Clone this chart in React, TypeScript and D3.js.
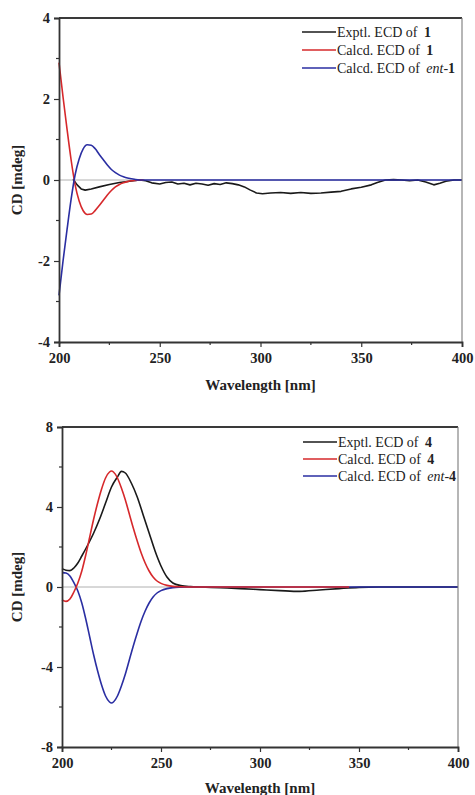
import { useEffect, useRef } from "react";
import * as d3 from "d3";

// panel 1 (compound 1)
const exp1Wl = [207, 209, 211, 213, 216, 220, 225, 230, 235, 240, 243, 246, 250, 253, 256, 259, 262, 265, 268, 271, 274, 277, 280, 283, 286, 289, 292, 295, 298, 301, 305, 310, 315, 320, 325, 330, 335, 340, 345, 350, 355, 358, 362, 366, 370, 374, 378, 382, 386, 389, 392, 396, 400];
const exp1Cd = [0.02, -0.12, -0.22, -0.25, -0.22, -0.17, -0.11, -0.06, -0.03, 0.0, -0.02, -0.07, -0.1, -0.06, -0.05, -0.1, -0.08, -0.12, -0.08, -0.1, -0.13, -0.09, -0.11, -0.07, -0.09, -0.12, -0.17, -0.25, -0.32, -0.34, -0.32, -0.31, -0.33, -0.31, -0.33, -0.32, -0.3, -0.28, -0.22, -0.18, -0.12, -0.06, 0.0, 0.01, 0.0, -0.02, 0.0, -0.05, -0.12, -0.08, -0.03, 0.0, 0.0];
const calc1Wl = [200, 202, 204, 206, 208, 210, 212, 214, 216, 218, 220, 222, 224, 226, 228, 230, 232, 234, 236, 238, 240, 242];
const calc1Cd = [2.9, 2.05, 1.25, 0.5, -0.12, -0.52, -0.76, -0.85, -0.84, -0.75, -0.63, -0.5, -0.37, -0.26, -0.17, -0.11, -0.07, -0.04, -0.02, -0.01, 0.0, 0.0];
const ent1Wl = [200, 202, 204, 206, 208, 210, 212, 214, 216, 218, 220, 222, 224, 226, 228, 230, 232, 234, 236, 238, 240, 242, 300, 400];
const ent1Cd = [-2.85, -2.0, -1.22, -0.48, 0.13, 0.52, 0.77, 0.87, 0.86, 0.77, 0.63, 0.5, 0.37, 0.26, 0.18, 0.12, 0.08, 0.05, 0.03, 0.01, 0.0, 0.0, 0.0, 0.0];

// panel 2 (compound 4)
const exp4Wl = [200, 202, 204, 206, 208, 210, 213, 216, 219, 222, 225, 228, 230, 232, 235, 238, 241, 244, 247, 250, 253, 256, 260, 265, 270, 280, 290, 300, 310, 320, 330, 340, 350, 360, 370, 380, 390, 400];
const exp4Cd = [0.92, 0.84, 0.82, 0.95, 1.2, 1.55, 2.1, 2.7, 3.4, 4.2, 5.0, 5.5, 5.78, 5.7, 5.2, 4.5, 3.6, 2.7, 1.8, 1.05, 0.5, 0.2, 0.07, 0.02, 0.0, -0.04, -0.08, -0.13, -0.18, -0.22, -0.15, -0.08, -0.02, 0.0, 0.0, 0.0, 0.0, 0.0];
const calc4Wl = [200, 202, 204, 206, 208, 210, 212, 214, 216, 218, 220, 222, 224, 225, 226, 228, 230, 232, 234, 236, 238, 240, 242, 244, 246, 248, 250, 253, 256, 260, 265, 300, 345];
const calc4Cd = [-0.65, -0.72, -0.6, -0.25, 0.2, 0.8, 1.6, 2.5, 3.4, 4.2, 4.9, 5.45, 5.75, 5.8, 5.75, 5.45, 4.95, 4.35, 3.65, 2.95, 2.3, 1.7, 1.2, 0.8, 0.5, 0.3, 0.18, 0.08, 0.03, 0.01, 0.0, 0.0, 0.0];
const ent4Wl = [200, 202, 204, 206, 208, 210, 212, 214, 216, 218, 220, 222, 224, 225, 226, 228, 230, 232, 234, 236, 238, 240, 242, 244, 246, 248, 250, 253, 256, 260, 265, 300, 400];
const ent4Cd = [0.72, 0.7, 0.55, 0.22, -0.2, -0.8, -1.6, -2.5, -3.4, -4.2, -4.9, -5.45, -5.75, -5.8, -5.75, -5.45, -4.95, -4.35, -3.65, -2.95, -2.3, -1.7, -1.2, -0.8, -0.5, -0.3, -0.18, -0.08, -0.03, -0.01, 0.0, 0.0, 0.0];

const xTicks = [200, 250, 300, 350, 400];
const xMinor = [225, 275, 325, 375];
const y1Ticks = [-4, -2, 0, 2, 4];
const y1Minor = [-3, -1, 1, 3];
const y4Ticks = [-8, -4, 0, 4, 8];
const y4Minor = [-6, -2, 2, 6];

const BLACK = "#1a1a1a";
const RED = "#d6282b";
const BLUE = "#2a2ea2";
const SERIF = "'Liberation Serif', 'DejaVu Serif', serif";
const legendColors = [BLACK, RED, BLUE];

type Series = { wl: number[]; cd: number[]; color: string; smooth: boolean };

const fmt = (d: any) => String(d); // plain hyphen for negatives

const Panel = ({ g }: { g: any }) => {
  const ref = useRef<SVGGElement>(null);

  useEffect(() => {
    const root = d3.select(ref.current);
    root.selectAll("*").remove();

    const x = d3.scaleLinear().domain([200, 400]).range([g.left, g.right]);
    const y = d3.scaleLinear().domain(g.yDomain).range([g.bottom, g.top]);

    // zero line
    root.append("line")
      .attr("x1", g.left).attr("x2", g.right)
      .attr("y1", y(0)).attr("y2", y(0))
      .attr("stroke", "#b0b0b0").attr("stroke-width", 1);

    const line = (smooth: boolean) =>
      d3.line<[number, number]>()
        .x((d) => x(d[0]))
        .y((d) => y(d[1]))
        .curve(smooth ? d3.curveMonotoneX : d3.curveLinear);

    g.series.forEach((s: Series) => {
      const pts = s.wl.map((w, i) => [w, s.cd[i]] as [number, number]);
      root.append("path")
        .attr("d", line(s.smooth)(pts))
        .attr("fill", "none")
        .attr("stroke", s.color)
        .attr("stroke-width", 1.6)
        .attr("stroke-linejoin", "round");
    });

    // frame
    root.append("line")
      .attr("x1", g.left).attr("x2", g.right).attr("y1", g.top).attr("y2", g.top)
      .attr("stroke", "#3a3a3a").attr("stroke-width", 1.8);
    root.append("line")
      .attr("x1", g.right).attr("x2", g.right).attr("y1", g.top).attr("y2", g.bottom)
      .attr("stroke", "#7a7a7a").attr("stroke-width", 1.1);

    const xAxis = root.append("g")
      .attr("transform", `translate(0,${g.bottom})`)
      .call(d3.axisBottom(x).tickValues(xTicks).tickSize(5).tickPadding(6).tickFormat(fmt));
    xAxis.selectAll("line.minor")
      .data(xMinor).enter().append("line")
      .attr("x1", (d) => x(d)).attr("x2", (d) => x(d))
      .attr("y1", 0).attr("y2", 3)
      .attr("stroke", "#333").attr("stroke-width", 1.2);

    const yAxis = root.append("g")
      .attr("transform", `translate(${g.left},0)`)
      .call(d3.axisLeft(y).tickValues(g.yTicks).tickSize(5).tickPadding(4).tickFormat(fmt));
    yAxis.selectAll("line.minor")
      .data(g.yMinor as number[]).enter().append("line")
      .attr("x1", 0).attr("x2", -3)
      .attr("y1", (d) => y(d)).attr("y2", (d) => y(d))
      .attr("stroke", "#333").attr("stroke-width", 1.2);

    [xAxis, yAxis].forEach((a) => {
      a.select(".domain").attr("stroke", "#333").attr("stroke-width", 1.8);
      a.selectAll(".tick line").attr("stroke", "#333").attr("stroke-width", 1.2);
      a.selectAll(".tick text")
        .attr("font-family", SERIF).attr("font-size", 14.5)
        .attr("font-weight", "bold").attr("fill", "#222");
    });

    // axis titles
    root.append("text")
      .attr("x", (g.left + g.right) / 2).attr("y", g.xTitleY)
      .attr("text-anchor", "middle")
      .attr("font-family", SERIF).attr("font-size", 15).attr("font-weight", "bold")
      .attr("fill", "#222")
      .text("Wavelength [nm]");
    root.append("text")
      .attr("transform", `translate(22,${(g.top + g.bottom) / 2}) rotate(-90)`)
      .attr("text-anchor", "middle")
      .attr("font-family", SERIF).attr("font-size", 15).attr("font-weight", "bold")
      .attr("fill", "#222")
      .text("CD [mdeg]");

    // legend
    const labels = [
      { pre: "Exptl. ECD of ", ent: false },
      { pre: "Calcd. ECD of ", ent: false },
      { pre: "Calcd. ECD of ", ent: true },
    ];
    labels.forEach((l, i) => {
      const ly = g.legendY[i];
      root.append("line")
        .attr("x1", g.legendX).attr("x2", g.legendX + 34)
        .attr("y1", ly).attr("y2", ly)
        .attr("stroke", legendColors[i]).attr("stroke-width", 1.6);
      const t = root.append("text")
        .attr("x", g.legendX + 35).attr("y", ly + 4.5)
        .attr("font-family", SERIF).attr("font-size", 14).attr("fill", "#222");
      t.append("tspan").text(l.pre);
      if (l.ent) {
        t.append("tspan").attr("dx", 3).attr("font-style", "italic").text("ent");
        t.append("tspan").text("-");
        t.append("tspan").attr("font-weight", "bold").text(g.id);
      } else {
        t.append("tspan").attr("dx", 3).attr("font-weight", "bold").text(g.id);
      }
    });
  }, [g]);

  return <g ref={ref} />;
};

const panel1 = {
  id: "1",
  left: 59, right: 462, top: 18, bottom: 342,
  yDomain: [-4, 4], yTicks: y1Ticks, yMinor: y1Minor,
  xTitleY: 390,
  legendX: 302, legendY: [32, 50, 68],
  series: [
    { wl: exp1Wl, cd: exp1Cd, color: BLACK, smooth: false },
    { wl: calc1Wl, cd: calc1Cd, color: RED, smooth: true },
    { wl: ent1Wl, cd: ent1Cd, color: BLUE, smooth: true },
  ],
};

const panel2 = {
  id: "4",
  left: 62, right: 458, top: 427, bottom: 747,
  yDomain: [-8, 8], yTicks: y4Ticks, yMinor: y4Minor,
  xTitleY: 793,
  legendX: 303, legendY: [442, 459, 476],
  series: [
    { wl: exp4Wl, cd: exp4Cd, color: BLACK, smooth: true },
    { wl: ent4Wl, cd: ent4Cd, color: BLUE, smooth: true },
    { wl: calc4Wl, cd: calc4Cd, color: RED, smooth: true },
  ],
};

export default function App() {
  return (
    <svg
      width={475}
      height={795}
      style={{ position: "absolute", left: 0, top: 0, background: "#fff" }}
    >
      <Panel g={panel1} />
      <Panel g={panel2} />
    </svg>
  );
}
